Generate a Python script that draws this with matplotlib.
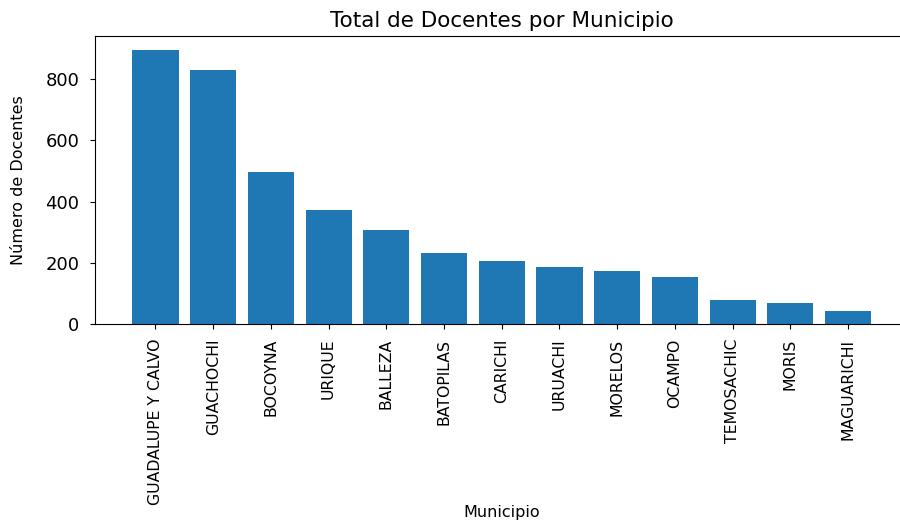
"""Total de docentes por municipio - bar chart."""

import matplotlib
matplotlib.use('Agg')
import matplotlib.pyplot as plt

municipios = ['GUADALUPE Y CALVO', 'GUACHOCHI', 'BOCOYNA', 'URIQUE',
              'BALLEZA', 'BATOPILAS', 'CARICHI', 'URUACHI', 'MORELOS',
              'OCAMPO', 'TEMOSACHIC', 'MORIS', 'MAGUARICHI']
docentes = [895, 829, 496, 372, 307, 232, 206, 187, 175, 153, 79, 68, 42]


def make_plot():
    fig = plt.figure(figsize=(9, 5.27), dpi=100)
    ax = fig.add_axes([0.106, 0.385, 0.903, 0.546])
    ax.bar(municipios, docentes, color='#1f77b4')
    ax.set_title('Total de Docentes por Municipio', fontsize=15.5, pad=7)
    ax.set_xlabel('Municipio', fontsize=11.5, labelpad=0)
    ax.set_ylabel('Número de Docentes', fontsize=11.5, labelpad=14)
    ax.tick_params(axis='y', labelsize=13, pad=8)
    ax.tick_params(axis='x', labelsize=11.3, labelrotation=90, pad=7)
    ax.set_ylim(0, 940)
    fig.savefig('out.png', dpi=100)


if __name__ == '__main__':
    make_plot()
